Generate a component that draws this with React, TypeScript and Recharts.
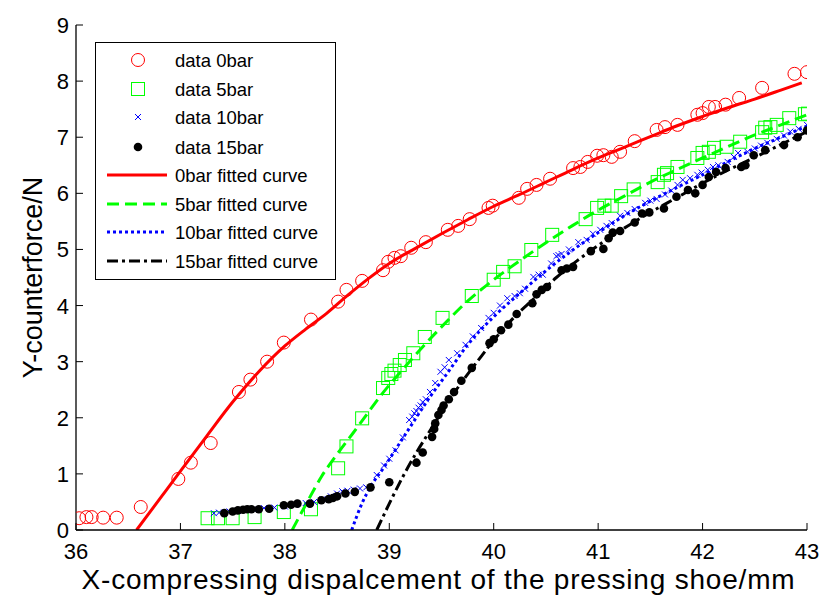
import {
  ComposedChart,
  Line,
  Scatter,
  XAxis,
  YAxis,
  Legend,
  Label,
} from "recharts";

type Pt = [number, number];

const X_TICKS = [36, 37, 38, 39, 40, 41, 42, 43];
const Y_TICKS = [0, 1, 2, 3, 4, 5, 6, 7, 8, 9];

// measured points
const data0bar: Pt[] = [
  [36.03, 0.21], [36.1, 0.23], [36.15, 0.23], [36.26, 0.22], [36.39, 0.22], [36.62, 0.41],
  [36.98, 0.91], [37.1, 1.2], [37.29, 1.55], [37.56, 2.46], [37.67, 2.68], [37.83, 3.0],
  [37.99, 3.34], [38.25, 3.75], [38.51, 4.07], [38.59, 4.28], [38.74, 4.44], [38.94, 4.63],
  [38.99, 4.78], [39.05, 4.85], [39.11, 4.88], [39.21, 5.03], [39.35, 5.13], [39.56, 5.35],
  [39.66, 5.42], [39.77, 5.54], [39.95, 5.74], [39.99, 5.78], [40.24, 5.92], [40.32, 6.08],
  [40.41, 6.15], [40.54, 6.26], [40.76, 6.45], [40.83, 6.47], [40.9, 6.56], [40.99, 6.67],
  [41.05, 6.68], [41.13, 6.65], [41.21, 6.74], [41.35, 6.93], [41.56, 7.13], [41.64, 7.18],
  [41.76, 7.22], [41.95, 7.4], [42.0, 7.43], [42.06, 7.54], [42.12, 7.54], [42.22, 7.58],
  [42.35, 7.7], [42.57, 7.88], [42.88, 8.13], [43.0, 8.16],
];

const data5bar: Pt[] = [
  [37.26, 0.21], [37.36, 0.21], [37.5, 0.21], [37.71, 0.23], [37.99, 0.32], [38.25, 0.37],
  [38.51, 1.1], [38.59, 1.49], [38.74, 1.99], [38.94, 2.53], [38.99, 2.71], [39.02, 2.78],
  [39.05, 2.84], [39.1, 2.94], [39.15, 3.03], [39.23, 3.15], [39.34, 3.44], [39.51, 3.78],
  [39.79, 4.17], [40.0, 4.46], [40.09, 4.6], [40.2, 4.7], [40.36, 4.99], [40.56, 5.26],
  [40.88, 5.54], [40.99, 5.74], [41.06, 5.78], [41.13, 5.78], [41.22, 5.95], [41.34, 6.07],
  [41.57, 6.2], [41.63, 6.33], [41.66, 6.36], [41.76, 6.47], [41.95, 6.63], [42.0, 6.72],
  [42.06, 6.74], [42.11, 6.81], [42.23, 6.83], [42.36, 6.92], [42.57, 7.09], [42.6, 7.17],
  [42.65, 7.18], [42.71, 7.22], [42.83, 7.34], [42.98, 7.41], [43.01, 7.42],
];

const data10bar: Pt[] = [
  [37.32, 0.3], [37.37, 0.31], [37.42, 0.31], [37.47, 0.33], [37.55, 0.34], [37.62, 0.36],
  [37.7, 0.37], [37.8, 0.39], [37.9, 0.4], [38.0, 0.42], [38.1, 0.45], [38.2, 0.48],
  [38.28, 0.5], [38.36, 0.55], [38.44, 0.6], [38.5, 0.65], [38.55, 0.69], [38.6, 0.7],
  [38.66, 0.72], [38.72, 0.74], [38.78, 0.76], [38.88, 0.98], [38.95, 1.15], [39.0, 1.27],
  [39.06, 1.42], [39.13, 1.65], [39.19, 1.96], [39.22, 2.02], [39.24, 2.08], [39.26, 2.12],
  [39.28, 2.18], [39.3, 2.22], [39.32, 2.28], [39.35, 2.33], [39.39, 2.46], [39.44, 2.62],
  [39.49, 2.82], [39.53, 2.9], [39.57, 3.03], [39.65, 3.15], [39.73, 3.3], [39.8, 3.45],
  [39.88, 3.6], [39.95, 3.78], [40.0, 3.87], [40.06, 4.0], [40.13, 4.13], [40.2, 4.17],
  [40.25, 4.22], [40.3, 4.3], [40.38, 4.51], [40.43, 4.55], [40.47, 4.55], [40.55, 4.75],
  [40.6, 4.88], [40.62, 4.9], [40.65, 4.92], [40.72, 5.0], [40.81, 5.13], [40.89, 5.17],
  [40.95, 5.28], [41.02, 5.35], [41.08, 5.42], [41.13, 5.47], [41.21, 5.6], [41.28, 5.65],
  [41.35, 5.72], [41.45, 5.83], [41.5, 5.87], [41.56, 5.9], [41.64, 5.98], [41.7, 6.05],
  [41.76, 6.15], [41.81, 6.24], [41.88, 6.27], [41.95, 6.33], [41.99, 6.37], [42.05, 6.42],
  [42.1, 6.47], [42.15, 6.5], [42.24, 6.56], [42.3, 6.65], [42.34, 6.72], [42.43, 6.74],
  [42.5, 6.8], [42.56, 6.85], [42.62, 6.9], [42.71, 6.97], [42.78, 7.03], [42.84, 7.1],
  [42.92, 7.15], [43.0, 7.22],
];

const data15bar: Pt[] = [
  [37.42, 0.3], [37.5, 0.33], [37.55, 0.35], [37.6, 0.36], [37.64, 0.37], [37.68, 0.37],
  [37.75, 0.37], [37.85, 0.38], [37.99, 0.44], [38.06, 0.45], [38.12, 0.47], [38.24, 0.47],
  [38.35, 0.53], [38.42, 0.55], [38.46, 0.57], [38.5, 0.6], [38.58, 0.65], [38.67, 0.68],
  [38.82, 0.76], [39.0, 0.85], [39.26, 1.2], [39.32, 1.38], [39.41, 1.66], [39.43, 1.8],
  [39.44, 1.9], [39.47, 2.05], [39.5, 2.14], [39.52, 2.22], [39.57, 2.33], [39.62, 2.46],
  [39.69, 2.66], [39.79, 2.89], [39.96, 3.33], [40.0, 3.4], [40.07, 3.56], [40.14, 3.66],
  [40.22, 3.85], [40.37, 4.04], [40.41, 4.2], [40.46, 4.28], [40.51, 4.33], [40.65, 4.63],
  [40.7, 4.66], [40.76, 4.69], [40.93, 4.97], [41.05, 5.01], [41.1, 5.2], [41.14, 5.3],
  [41.21, 5.33], [41.35, 5.48], [41.42, 5.64], [41.49, 5.66], [41.63, 5.73], [41.75, 5.94],
  [41.86, 6.06], [41.93, 6.0], [42.0, 6.15], [42.06, 6.29], [42.13, 6.38], [42.22, 6.45],
  [42.37, 6.47], [42.41, 6.5], [42.49, 6.68], [42.6, 6.77], [42.78, 6.86], [42.91, 7.0],
  [43.0, 7.12],
];

// fitted curves
const fit0bar: Pt[] = [
  [36.58, 0], [36.8, 0.55], [37.0, 1.05], [37.25, 1.67], [37.5, 2.28], [37.75, 2.82],
  [38.0, 3.28], [38.2, 3.58], [38.4, 3.86], [38.6, 4.18], [38.8, 4.48], [39.0, 4.75],
  [39.25, 5.02], [39.5, 5.28], [39.75, 5.53], [40.0, 5.77], [40.25, 5.98], [40.5, 6.2],
  [40.75, 6.42], [41.0, 6.63], [41.25, 6.82], [41.5, 7.01], [41.75, 7.2], [42.0, 7.37],
  [42.25, 7.53], [42.5, 7.68], [42.75, 7.84], [42.95, 7.97],
];

const fit5bar: Pt[] = [
  [38.07, 0], [38.2, 0.45], [38.35, 0.95], [38.5, 1.35], [38.65, 1.72], [38.8, 2.1],
  [38.95, 2.47], [39.1, 2.8], [39.25, 3.12], [39.5, 3.62], [39.75, 4.08], [40.0, 4.46],
  [40.25, 4.8], [40.5, 5.12], [40.75, 5.42], [41.0, 5.7], [41.25, 5.95], [41.5, 6.2],
  [41.75, 6.42], [42.0, 6.63], [42.25, 6.84], [42.5, 7.04], [42.75, 7.22], [43.0, 7.4],
];

const fit10bar: Pt[] = [
  [38.64, 0], [38.74, 0.48], [38.83, 0.8], [38.95, 1.12], [39.1, 1.55], [39.25, 1.98],
  [39.4, 2.4], [39.55, 2.78], [39.75, 3.3], [40.0, 3.8], [40.25, 4.22], [40.5, 4.62],
  [40.75, 4.98], [41.0, 5.3], [41.25, 5.6], [41.5, 5.86], [41.75, 6.1], [42.0, 6.33],
  [42.25, 6.57], [42.5, 6.8], [42.75, 7.0], [43.0, 7.2],
];

const fit15bar: Pt[] = [
  [38.88, 0], [39.0, 0.47], [39.13, 0.95], [39.25, 1.35], [39.4, 1.8], [39.55, 2.25],
  [39.7, 2.65], [39.85, 3.02], [40.0, 3.38], [40.2, 3.8], [40.4, 4.15], [40.6, 4.5],
  [40.8, 4.8], [41.0, 5.07], [41.25, 5.38], [41.5, 5.66], [41.75, 5.92], [42.0, 6.18],
  [42.25, 6.42], [42.5, 6.64], [42.75, 6.87], [43.0, 7.1],
];

const toRows = (pts: Pt[]) => pts.map(([x, y]) => ({ x, y }));

const FONT = "'Liberation Sans', Arial, sans-serif";
const RED = "#ff0000";
const GREEN = "#00ff00";
const BLUE = "#0000ff";

const circleShape = (p: any) => (
  <circle cx={p.cx} cy={p.cy} r={6.5} fill="none" stroke={RED} strokeWidth={1} />
);
const squareShape = (p: any) => (
  <rect x={p.cx - 6.5} y={p.cy - 6.5} width={13} height={13} fill="none" stroke={GREEN} strokeWidth={1} />
);
const crossShape = (p: any) => (
  <path
    d={`M${p.cx - 3},${p.cy - 3}L${p.cx + 3},${p.cy + 3}M${p.cx - 3},${p.cy + 3}L${p.cx + 3},${p.cy - 3}`}
    stroke={BLUE}
    strokeWidth={1}
  />
);
const dotShape = (p: any) => <circle cx={p.cx} cy={p.cy} r={4.3} fill="#000" />;

const BottomTick = ({ x, y, payload }: any) => (
  <g>
    <line x1={x} x2={x} y1={y} y2={y - 7} stroke="#000" />
    <text x={x} y={y + 29} textAnchor="middle" fontSize={22} fontFamily={FONT} fill="#000">
      {payload.value}
    </text>
  </g>
);
const LeftTick = ({ x, y, payload }: any) => (
  <g>
    <line x1={x} x2={x + 7} y1={y} y2={y} stroke="#000" />
    <text x={x - 7} y={y + 8} textAnchor="end" fontSize={22} fontFamily={FONT} fill="#000">
      {payload.value}
    </text>
  </g>
);
const TopTick = ({ x, y }: any) => <line x1={x} x2={x} y1={y} y2={y + 7} stroke="#000" />;
const RightTick = ({ x, y }: any) => <line x1={x} x2={x - 7} y1={y} y2={y} stroke="#000" />;

const LEGEND_ROWS = [
  { label: "data 0bar", kind: "circle" },
  { label: "data 5bar", kind: "square" },
  { label: "data 10bar", kind: "cross" },
  { label: "data 15bar", kind: "dot" },
  { label: "0bar fitted curve", kind: "line", color: RED, dash: undefined },
  { label: "5bar fitted curve", kind: "line", color: GREEN, dash: "12 6" },
  { label: "10bar fitted curve", kind: "line", color: BLUE, dash: "3 3" },
  { label: "15bar fitted curve", kind: "line", color: "#000", dash: "11 4 3 4" },
];
const LEGEND_Y = [18, 47, 75, 105, 133, 162, 190, 219];

function LegendBox() {
  return (
    <svg width={241} height={238} style={{ display: "block" }}>
      <rect x={0.5} y={0.5} width={240} height={237} fill="#fff" stroke="#000" strokeWidth={1} />
      {LEGEND_ROWS.map((row, i) => {
        const cy = LEGEND_Y[i];
        const p = { cx: 43, cy };
        let marker = null;
        if (row.kind === "circle") marker = circleShape(p);
        else if (row.kind === "square") marker = squareShape(p);
        else if (row.kind === "cross") marker = crossShape(p);
        else if (row.kind === "dot") marker = dotShape(p);
        else
          marker = (
            <line x1={12} x2={72} y1={cy} y2={cy} stroke={row.color} strokeWidth={3} strokeDasharray={row.dash} />
          );
        return (
          <g key={row.label}>
            {marker}
            <text x={80} y={cy + 6.5} fontSize={18.5} fontFamily={FONT} fill="#000">
              {row.label}
            </text>
          </g>
        );
      })}
    </svg>
  );
}

const YLabel = ({ viewBox }: any) => {
  const cx = viewBox.x + 33;
  const cy = viewBox.y + viewBox.height / 2;
  return (
    <text
      x={cx}
      y={cy}
      transform={`rotate(-90 ${cx} ${cy})`}
      textAnchor="middle"
      dominantBaseline="central"
      fontSize={27}
      fontFamily={FONT}
      fill="#000"
    >
      Y-counterforce/N
    </text>
  );
};

const XLabel = ({ viewBox }: any) => (
  <text
    x={viewBox.x + viewBox.width / 2 - 3}
    y={589}
    textAnchor="middle"
    fontSize={28}
    letterSpacing={0.8}
    fontFamily={FONT}
    fill="#000"
  >
    X-compressing dispalcement of the pressing shoe/mm
  </text>
);

export default function App() {
  return (
    <div style={{ position: "absolute", left: 0, top: 0, background: "#fff" }}>
      <ComposedChart width={822} height={595} margin={{ top: 25, right: 15, left: 0, bottom: 0 }}>
        <XAxis
          dataKey="x"
          type="number"
          domain={[36, 43]}
          ticks={X_TICKS}
          allowDataOverflow
          height={65}
          tickSize={0}
          tickMargin={0}
          tickLine={false}
          tick={<BottomTick />}
          axisLine={{ stroke: "#000", strokeWidth: 1.3 }}
        >
          <Label content={<XLabel />} />
        </XAxis>
        <XAxis
          xAxisId="top"
          orientation="top"
          dataKey="x"
          type="number"
          domain={[36, 43]}
          ticks={X_TICKS}
          height={0}
          tickSize={0}
          tickMargin={0}
          tickLine={false}
          tick={<TopTick />}
          axisLine={{ stroke: "#000", strokeWidth: 1.3 }}
        />
        <YAxis
          type="number"
          domain={[0, 9]}
          ticks={Y_TICKS}
          allowDataOverflow
          width={76}
          tickSize={0}
          tickMargin={0}
          tickLine={false}
          tick={<LeftTick />}
          axisLine={{ stroke: "#000", strokeWidth: 1.3 }}
        >
          <Label content={<YLabel />} />
        </YAxis>
        <YAxis
          yAxisId="right"
          orientation="right"
          type="number"
          domain={[0, 9]}
          ticks={Y_TICKS}
          width={0}
          tickSize={0}
          tickMargin={0}
          tickLine={false}
          tick={<RightTick />}
          axisLine={{ stroke: "#000", strokeWidth: 1.3 }}
        />

        <Line data={toRows(fit0bar)} dataKey="y" type="monotone" stroke={RED} strokeWidth={3} dot={false} isAnimationActive={false} />
        <Line data={toRows(fit5bar)} dataKey="y" type="monotone" stroke={GREEN} strokeWidth={3} strokeDasharray="12 6" dot={false} isAnimationActive={false} />
        <Line data={toRows(fit10bar)} dataKey="y" type="monotone" stroke={BLUE} strokeWidth={3} strokeDasharray="3 3" dot={false} isAnimationActive={false} />
        <Line data={toRows(fit15bar)} dataKey="y" type="monotone" stroke="#000" strokeWidth={3} strokeDasharray="11 4 3 4" dot={false} isAnimationActive={false} />

        <Scatter data={toRows(data0bar)} dataKey="y" shape={circleShape} isAnimationActive={false} />
        <Scatter data={toRows(data5bar)} dataKey="y" shape={squareShape} isAnimationActive={false} />
        <Scatter data={toRows(data10bar)} dataKey="y" shape={crossShape} isAnimationActive={false} />
        <Scatter data={toRows(data15bar)} dataKey="y" shape={dotShape} isAnimationActive={false} />

        <Legend
          layout="vertical"
          align="center"
          verticalAlign="middle"
          content={() => <LegendBox />}
          wrapperStyle={{ position: "absolute", left: 95, top: 42, width: 241, height: 238 }}
        />
      </ComposedChart>
    </div>
  );
}
